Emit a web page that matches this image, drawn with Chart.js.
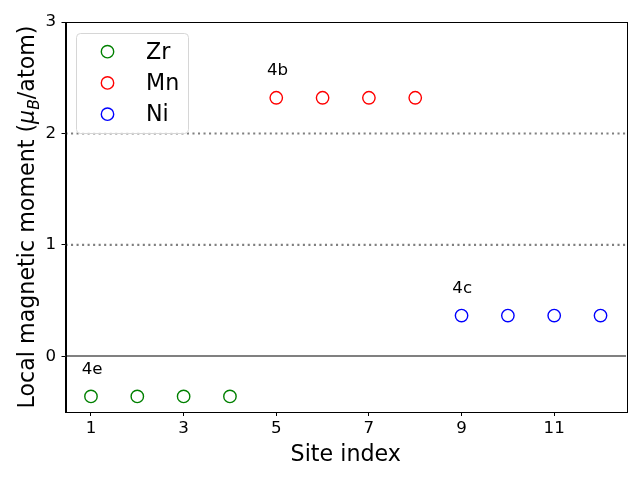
<!DOCTYPE html>
<html>
<head>
<meta charset="utf-8">
<script src="https://cdn.jsdelivr.net/npm/chart.js@4.4.0/dist/chart.umd.min.js"></script>
<style>
html,body{margin:0;padding:0;background:#fff;}
#wrap{width:640px;height:480px;position:relative;}
</style>
</head>
<body>
<div id="wrap"><canvas id="c" width="640" height="480"></canvas></div>
<script>
// ---- data ----
const zrSites = [1, 2, 3, 4];
const zrMoments = [-0.36, -0.36, -0.36, -0.36];
const mnSites = [5, 6, 7, 8];
const mnMoments = [2.32, 2.32, 2.32, 2.32];
const niSites = [9, 10, 11, 12];
const niMoments = [0.365, 0.365, 0.365, 0.365];
const seriesNames = ['Zr', 'Mn', 'Ni'];
const seriesColors = ['#008000', '#ff0000', '#0000ff'];
const xTickValues = [1, 3, 5, 7, 9, 11];
const yTickValues = [0, 1, 2, 3];
const siteLabels = ['4e', '4b', '4c'];
const siteLabelX = [0.8, 4.8, 8.8];
const siteLabelY = [-0.16, 2.52, 0.565];
const dottedLevels = [1, 2];
const zeroLevel = 0;

const FONT = "'DejaVu Sans', sans-serif";

function pts(xs, ys){ return xs.map((x,i)=>({x:x, y:ys[i]})); }

const lineAndTextPlugin = {
  id: 'refs',
  beforeDatasetsDraw(chart){
    const {ctx, chartArea:a, scales:{x, y}} = chart;
    ctx.save();
    ctx.beginPath(); ctx.rect(a.left, a.top, a.right-a.left, a.bottom-a.top); ctx.clip();
    ctx.strokeStyle = '#808080';
    ctx.lineWidth = 2.08;
    ctx.setLineDash([2.08, 3.44]);
    dottedLevels.forEach(v=>{
      const py = y.getPixelForValue(v);
      ctx.beginPath(); ctx.moveTo(a.left, py); ctx.lineTo(a.right, py); ctx.stroke();
    });
    ctx.setLineDash([]);
    ctx.lineWidth = 2;
    const p0 = Math.round(y.getPixelForValue(zeroLevel));
    ctx.beginPath(); ctx.moveTo(a.left, p0); ctx.lineTo(a.right, p0); ctx.stroke();
    ctx.restore();
  },
  afterDraw(chart){
    const {ctx, chartArea:a, scales:{x, y}} = chart;
    ctx.save();
    // frame
    ctx.strokeStyle = '#000'; ctx.lineWidth = 1;
    ctx.strokeRect(Math.round(a.left)+0.5, Math.round(a.top)+0.5, Math.round(a.right-a.left), Math.round(a.bottom-a.top));
    // site labels
    ctx.fillStyle = '#000';
    ctx.font = '16.67px ' + FONT;
    ctx.textAlign = 'left'; ctx.textBaseline = 'alphabetic';
    siteLabels.forEach((t,i)=>{
      ctx.fillText(t, x.getPixelForValue(siteLabelX[i]), y.getPixelForValue(siteLabelY[i]));
    });
    // legend
    const lx = 76.5, ly = 33.5, lw = 112, lh = 100, r = 4;
    ctx.beginPath();
    ctx.moveTo(lx+r, ly); ctx.lineTo(lx+lw-r, ly); ctx.arcTo(lx+lw, ly, lx+lw, ly+r, r);
    ctx.lineTo(lx+lw, ly+lh-r); ctx.arcTo(lx+lw, ly+lh, lx+lw-r, ly+lh, r);
    ctx.lineTo(lx+r, ly+lh); ctx.arcTo(lx, ly+lh, lx, ly+lh-r, r);
    ctx.lineTo(lx, ly+r); ctx.arcTo(lx, ly, lx+r, ly, r); ctx.closePath();
    ctx.fillStyle = 'rgba(255,255,255,0.8)'; ctx.fill();
    ctx.strokeStyle = '#d6d6d6'; ctx.lineWidth = 1; ctx.stroke();
    const rowY = [51.7, 82.9, 114.2];
    ctx.font = '22.2px ' + FONT;
    seriesNames.forEach((n,i)=>{
      ctx.beginPath(); ctx.arc(107.5, rowY[i], 6.2, 0, Math.PI*2);
      ctx.strokeStyle = seriesColors[i]; ctx.lineWidth = 1.4; ctx.stroke();
      ctx.fillStyle = '#000'; ctx.textAlign = 'left'; ctx.textBaseline = 'alphabetic';
      ctx.fillText(n, 146, rowY[i] + 7.2);
    });
    // y title with mathtext-like subscript
    const cy = (a.top + a.bottom) / 2;
    ctx.translate(34, cy);
    ctx.rotate(-Math.PI/2);
    const f = '22.2px ' + FONT, fi = 'italic 22.2px ' + FONT, fs = 'italic 15.5px ' + FONT;
    const parts = [
      {t:'Local magnetic moment (', f:f, dy:0},
      {t:'\u03bc', f:fi, dy:0},
      {t:'B', f:fs, dy:4.5},
      {t:'/atom)', f:f, dy:0}
    ];
    let tw = 0;
    parts.forEach(p=>{ ctx.font = p.f; p.w = ctx.measureText(p.t).width; tw += p.w; });
    let cx = -tw/2;
    ctx.fillStyle = '#000';
    parts.forEach(p=>{ ctx.font = p.f; ctx.fillText(p.t, cx, p.dy); cx += p.w; });
    ctx.restore();
  }
};

const dsCommon = {
  showLine: false,
  pointStyle: 'circle',
  pointRadius: 6.2,
  pointHoverRadius: 6.2,
  pointBorderWidth: 1.4,
  pointBackgroundColor: 'rgba(0,0,0,0)'
};

new Chart(document.getElementById('c'), {
  type: 'scatter',
  data: {
    datasets: [
      Object.assign({label: seriesNames[0], data: pts(zrSites, zrMoments), borderColor: seriesColors[0], pointBorderColor: seriesColors[0]}, dsCommon),
      Object.assign({label: seriesNames[1], data: pts(mnSites, mnMoments), borderColor: seriesColors[1], pointBorderColor: seriesColors[1]}, dsCommon),
      Object.assign({label: seriesNames[2], data: pts(niSites, niMoments), borderColor: seriesColors[2], pointBorderColor: seriesColors[2]}, dsCommon)
    ]
  },
  options: {
    responsive: false,
    animation: false,
    layout: {padding: {top: 22, right: 14, left: 0, bottom: 0}},
    plugins: {legend: {display: false}, tooltip: {enabled: false}},
    scales: {
      x: {
        type: 'linear', min: 0.45, max: 12.55,
        afterBuildTicks(s){ s.ticks = xTickValues.map(v=>({value:v})); },
        afterFit(s){ s.height = 68; },
        grid: {display: true, drawOnChartArea: false, drawTicks: true, tickLength: 4, color: '#000', lineWidth: 1},
        border: {display: true, color: '#000', width: 1},
        ticks: {color: '#000', font: {family: FONT, size: 16.67}, padding: 3, maxRotation: 0, autoSkip: false},
        title: {display: true, text: 'Site index', color: '#000', font: {family: FONT, size: 22.2}, padding: {top: 0, bottom: 11}}
      },
      y: {
        type: 'linear', min: -0.5, max: 3,
        afterBuildTicks(s){ s.ticks = yTickValues.map(v=>({value:v})); },
        afterFit(s){ s.width = 65.5; },
        grid: {display: true, drawOnChartArea: false, drawTicks: true, tickLength: 4, color: '#000', lineWidth: 1},
        border: {display: true, color: '#000', width: 1},
        ticks: {color: '#000', font: {family: FONT, size: 16.67}, padding: 5.5, autoSkip: false},
        title: {display: false}
      }
    }
  },
  plugins: [lineAndTextPlugin]
});
</script>
</body>
</html>
